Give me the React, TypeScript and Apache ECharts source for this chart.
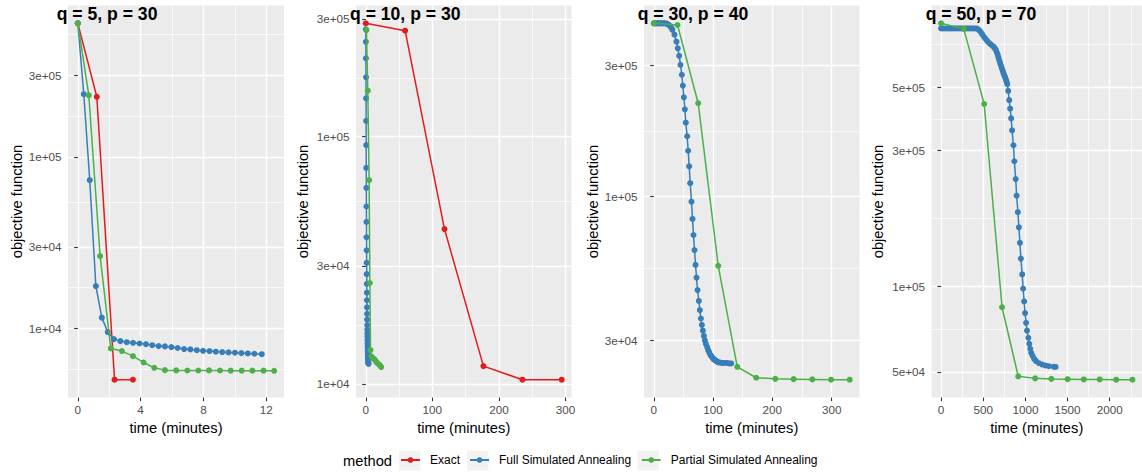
import React, { useEffect, useRef } from 'react';
import * as echarts from 'echarts';

// ---------- data ----------
const METHODS = ['Exact', 'Full Simulated Annealing', 'Partial Simulated Annealing'];
const COLORS = ['#E41A1C', '#377EB8', '#4DAF4A'];

// Panel 1: q = 5, p = 30
const p1ExactTime = [0, 1.21, 2.34, 3.51];
const p1ExactObj = [600000, 224000, 5050, 5050];
const p1FullTime = [0, 0.38, 0.76, 1.15, 1.53, 1.91, 2.30, 2.71, 3.12, 3.52, 3.93, 4.34, 4.74, 5.15, 5.55, 5.96, 6.36, 6.77, 7.17, 7.58, 7.98, 8.39, 8.79, 9.20, 9.60, 10.01, 10.42, 10.83, 11.25, 11.72];
const p1FullObj = [600000, 232000, 73300, 17700, 11600, 9550, 8700, 8470, 8350, 8280, 8200, 8130, 8020, 7920, 7890, 7820, 7720, 7610, 7580, 7500, 7440, 7410, 7350, 7310, 7280, 7250, 7210, 7180, 7150, 7110];
const p1PartialTime = [0, 0.70, 1.42, 2.10, 2.81, 3.51, 4.19, 4.87, 5.55, 6.27, 6.98, 7.68, 8.36, 9.06, 9.74, 10.44, 11.12, 11.83, 12.51];
const p1PartialObj = [600000, 228500, 26500, 7680, 7410, 6920, 6360, 5920, 5740, 5720, 5710, 5710, 5720, 5710, 5700, 5700, 5700, 5700, 5690];

// Panel 2: q = 10, p = 30
const p2ExactTime = [0, 59.1, 118.2, 176.7, 235.3, 294.3];
const p2ExactObj = [287600, 268500, 42300, 11800, 10400, 10400];
const p2FullTime = [0, 0.12, 0.2, 0.33, 0.41, 0.52, 0.6, 0.71, 0.8, 0.93, 1.02, 1.1, 1.24, 1.31, 1.43, 1.5, 1.62, 1.71, 1.8, 1.92, 2.01, 2.13, 2.2, 2.32, 2.4, 2.51, 2.63, 2.7, 2.82, 2.9, 3.03, 3.1, 3.22, 3.3, 3.42, 3.55, 3.7, 3.9, 4.2];
const p2FullObj = [271800, 242000, 207500, 174000, 143000, 115900, 92500, 74800, 62100, 52200, 45200, 39200, 34700, 30900, 27800, 25400, 23400, 21800, 20400, 19200, 18200, 17300, 16600, 16000, 15500, 15000, 14600, 14200, 13900, 13600, 13300, 13100, 12900, 12700, 12500, 12400, 12200, 12100, 12050];
const p2PartialTime = [1.0, 3.0, 5.0, 6.1, 7.1, 8.6, 10.6, 12.6, 14.6, 16.6, 18.6, 21.1, 23.1];
const p2PartialObj = [270000, 153500, 66700, 25600, 13700, 12900, 12700, 12600, 12400, 12200, 12050, 11900, 11700];

// Panel 3: q = 30, p = 40
const p3FullTime = [0, 2.3, 4.5, 6.8, 9.0, 11.3, 13.5, 15.8, 18.0, 20.3, 22.5, 24.8, 27.0, 29.3, 31.5, 34.9, 38.3, 40.5, 42.8, 45.0, 47.3, 49.0, 50.7, 52.4, 54.0, 56.3, 58.0, 59.7, 61.4, 63.6, 65.3, 67.0, 68.7, 70.4, 72.1, 73.8, 76.0, 77.7, 79.4, 81.1, 82.8, 84.5, 86.1, 87.8, 90.1, 91.8, 93.5, 95.1, 96.8, 98.5, 100.8, 102.5, 104.2, 105.8, 107.5, 109.2, 111.5, 114.9, 118.8, 123.3, 127.2, 130.6];
const p3FullObj = [428000, 428000, 428000, 428000, 428000, 428000, 428000, 428000, 428000, 428000, 426000, 423000, 419000, 413000, 405000, 389000, 367000, 347000, 326000, 302000, 278000, 254000, 230000, 208000, 186000, 166000, 147000, 129000, 112000, 95900, 83000, 72500, 63900, 56400, 50700, 45700, 41700, 38600, 36000, 34100, 32500, 31100, 30000, 29100, 28300, 27600, 27100, 26600, 26300, 26000, 25600, 25500, 25300, 25200, 25000, 24900, 24900, 24800, 24800, 24800, 24700, 24700];
const p3PartialTime = [0, 40.0, 74.9, 108.7, 140.8, 172.8, 204.9, 235.9, 267.5, 299.0, 330.5];
const p3PartialObj = [428000, 422000, 219000, 56000, 24000, 21900, 21700, 21650, 21600, 21550, 21550];

// Panel 4: q = 50, p = 70
const p4FullTime = [0, 25, 50, 75, 100, 125, 150, 175, 200, 225, 250, 275, 300, 325, 350, 375, 400, 425, 450, 469, 488, 508, 527, 546, 565, 585, 604, 623, 637, 650, 662, 673, 682, 692, 702, 712, 721, 731, 740, 750, 760, 769, 777, 785, 796, 808, 819, 831, 842, 858, 869, 885, 896, 911, 923, 935, 946, 962, 973, 985, 996, 1008, 1019, 1035, 1046, 1058, 1069, 1085, 1104, 1127, 1161, 1200, 1238, 1277, 1335, 1358];
const p4FullObj = [806000, 806000, 806000, 806000, 806000, 806000, 806000, 806000, 806000, 806000, 806000, 806000, 806000, 806000, 806000, 806000, 806000, 805000, 795000, 784000, 768000, 753000, 741000, 729000, 719000, 710000, 702000, 695000, 686000, 677000, 663000, 649000, 634000, 620000, 607000, 594000, 583000, 572000, 561000, 551000, 542000, 533000, 523000, 513000, 486000, 451000, 421000, 389000, 353000, 313000, 275000, 238000, 208000, 182000, 161000, 142000, 125000, 110000, 98000, 88400, 80400, 74300, 69800, 65800, 62700, 60200, 58300, 56900, 55500, 54500, 53600, 53000, 52600, 52300, 52100, 52000];
const p4PartialTime = [0, 269, 511, 723, 915, 1115, 1308, 1500, 1692, 1881, 2077, 2269];
const p4PartialObj = [840000, 803000, 437000, 84300, 48200, 47400, 47200, 47100, 47000, 47000, 46900, 46900];

// ticks (major) and minor grid breaks
const p1XTicks = [0, 4, 8, 12];
const p1XMinor = [2, 6, 10];
const p1YTicks = [10000, 30000, 100000, 300000];
const p1YMinor = [5774, 17320, 54772, 173205, 519615];
const p2XTicks = [0, 100, 200, 300];
const p2XMinor = [50, 150, 250];
const p2YTicks = [10000, 30000, 100000, 300000];
const p2YMinor = [5774, 17320, 54772, 173205, 519615];
const p3XTicks = [0, 100, 200, 300];
const p3XMinor = [50, 150, 250];
const p3YTicks = [30000, 100000, 300000];
const p3YMinor = [16432, 54772, 173205, 547723];
const p4XTicks = [0, 500, 1000, 1500, 2000];
const p4XMinor = [250, 750, 1250, 1750, 2250];
const p4YTicks = [50000, 100000, 300000, 500000];
const p4YMinor = [70711, 173205, 387298, 707107];

const TITLES = ['q = 5, p = 30', 'q = 10, p = 30', 'q = 30, p = 40', 'q = 50, p = 70'];

const FONT = '"Liberation Sans", Arial, Helvetica, sans-serif';

function sci(v: number): string {
  const e = Math.floor(Math.log10(v) + 1e-9);
  const m = Math.round(v / Math.pow(10, e));
  return `${m}e+${e < 10 ? '0' + e : e}`;
}

function padRange(vals: number[], log: boolean): [number, number] {
  const t = log ? vals.map((v) => Math.log10(v)) : vals;
  const lo = Math.min(...t);
  const hi = Math.max(...t);
  const pad = (hi - lo) * 0.05;
  return log ? [Math.pow(10, lo - pad), Math.pow(10, hi + pad)] : [lo - pad, hi + pad];
}

type Pair = [number[], number[]] | null;

const panels = [
  { left: 68, width: 216, titleX: 56.7, yNameGap: 44, xTicks: p1XTicks, xMinor: p1XMinor, yTicks: p1YTicks, yMinor: p1YMinor,
    series: [[p1ExactTime, p1ExactObj], [p1FullTime, p1FullObj], [p1PartialTime, p1PartialObj]] as Pair[] },
  { left: 356, width: 215.5, titleX: 350, yNameGap: 45.5, xTicks: p2XTicks, xMinor: p2XMinor, yTicks: p2YTicks, yMinor: p2YMinor,
    series: [[p2ExactTime, p2ExactObj], [p2FullTime, p2FullObj], [p2PartialTime, p2PartialObj]] as Pair[] },
  { left: 644, width: 215.5, titleX: 637.7, yNameGap: 43.5, xTicks: p3XTicks, xMinor: p3XMinor, yTicks: p3YTicks, yMinor: p3YMinor,
    series: [null, [p3FullTime, p3FullObj], [p3PartialTime, p3PartialObj]] as Pair[] },
  { left: 931.5, width: 216, titleX: 925.7, yNameGap: 46, xTicks: p4XTicks, xMinor: p4XMinor, yTicks: p4YTicks, yMinor: p4YMinor,
    series: [null, [p4FullTime, p4FullObj], [p4PartialTime, p4PartialObj]] as Pair[] },
];

export default function App() {
  const ref = useRef<HTMLDivElement>(null);

  useEffect(() => {
    if (!ref.current) return;
    const chart = echarts.init(ref.current, null, { renderer: 'svg' });

    const grid: any[] = [];
    const xAxis: any[] = [];
    const yAxis: any[] = [];
    const series: any[] = [];
    const graphic: any[] = [];

    panels.forEach((p, i) => {
      const present = p.series.filter((s) => s) as [number[], number[]][];
      const allX = present.flatMap((s) => s[0]);
      const allY = present.flatMap((s) => s[1]);
      const [xmin, xmax] = padRange(allX, false);
      const [ymin, ymax] = padRange(allY, true);

      grid.push({ left: p.left, top: 5.5, width: p.width, height: 392, show: true, backgroundColor: '#EBEBEB', borderWidth: 0 });

      xAxis.push({
        type: 'value', gridIndex: i, min: xmin, max: xmax,
        axisLine: { show: false },
        axisTick: { show: true, length: 3.7, lineStyle: { color: '#333333', width: 1.1 }, customValues: p.xTicks },
        axisLabel: { customValues: p.xTicks, color: '#4D4D4D', fontSize: 11.7, fontFamily: FONT, margin: 6, formatter: (v: number) => String(v) },
        splitLine: { show: true, lineStyle: { color: '#FFFFFF', width: 1.4 } },
        name: 'time (minutes)', nameLocation: 'middle', nameGap: 20,
        nameTextStyle: { color: '#000000', fontSize: 14.7, fontFamily: FONT },
      });
      xAxis.push({
        type: 'value', gridIndex: i, min: xmin, max: xmax, position: 'bottom',
        axisLine: { show: false },
        axisTick: { show: false, customValues: p.xMinor },
        axisLabel: { show: false, customValues: p.xMinor },
        splitLine: { show: true, lineStyle: { color: '#FFFFFF', width: 0.7 } },
      });
      yAxis.push({
        type: 'log', logBase: 10, gridIndex: i, min: ymin, max: ymax,
        axisLine: { show: false },
        axisTick: { show: true, length: 3.7, lineStyle: { color: '#333333', width: 1.1 }, customValues: p.yTicks },
        axisLabel: { customValues: p.yTicks, color: '#4D4D4D', fontSize: 11.7, fontFamily: FONT, margin: 6.5, formatter: (v: number) => sci(v) },
        splitLine: { show: true, lineStyle: { color: '#FFFFFF', width: 1.4 } },
        name: 'objective function', nameLocation: 'middle', nameGap: p.yNameGap,
        nameTextStyle: { color: '#000000', fontSize: 14.7, fontFamily: FONT },
      });
      yAxis.push({
        type: 'log', logBase: 10, gridIndex: i, min: ymin, max: ymax, position: 'left',
        axisLine: { show: false },
        axisTick: { show: false, customValues: p.yMinor },
        axisLabel: { show: false, customValues: p.yMinor },
        splitLine: { show: true, lineStyle: { color: '#FFFFFF', width: 0.7 } },
      });

      p.series.forEach((s, j) => {
        if (!s) return;
        const data = s[0].map((t, k) => [t, s[1][k]]);
        series.push({
          type: 'line', name: METHODS[j], xAxisIndex: 2 * i, yAxisIndex: 2 * i,
          data, symbol: 'circle', symbolSize: 6, showSymbol: true, showAllSymbol: true,
          lineStyle: { width: 1.5, color: COLORS[j] }, itemStyle: { color: COLORS[j] },
          emphasis: { disabled: true }, silent: true, z: 2 + j,
        });
      });

      graphic.push({
        type: 'text', x: p.titleX, y: 14, z: 100,
        style: { text: TITLES[i], fontSize: 17.6, fontWeight: 'bold', fontFamily: FONT, fill: '#000000', verticalAlign: 'middle' },
      });
    });

    graphic.push({
      type: 'text', x: 343, y: 460.5, z: 100,
      style: { text: 'method', fontSize: 14.7, fontFamily: FONT, fill: '#000000', verticalAlign: 'middle' },
    });
    [399, 467, 637.5].forEach((bx) => {
      graphic.push({ type: 'rect', x: bx, y: 450.5, z: 0, shape: { width: 21.3, height: 20 }, style: { fill: '#F2F2F2' } });
    });

    chart.setOption({
      animation: false,
      backgroundColor: '#FFFFFF',
      grid, xAxis, yAxis, series, graphic,
      legend: {
        data: METHODS, left: 400, top: 454, padding: 0, orient: 'horizontal',
        itemWidth: 19, itemHeight: 7, itemGap: 9, selectedMode: false,
        textStyle: { fontSize: 12, fontFamily: FONT, color: '#000000', padding: [0, 0, 0, 5] },
      },
    });

    return () => chart.dispose();
  }, []);

  return <div ref={ref} style={{ position: 'fixed', left: 0, top: 0, width: 1142, height: 474 }} />;
}
